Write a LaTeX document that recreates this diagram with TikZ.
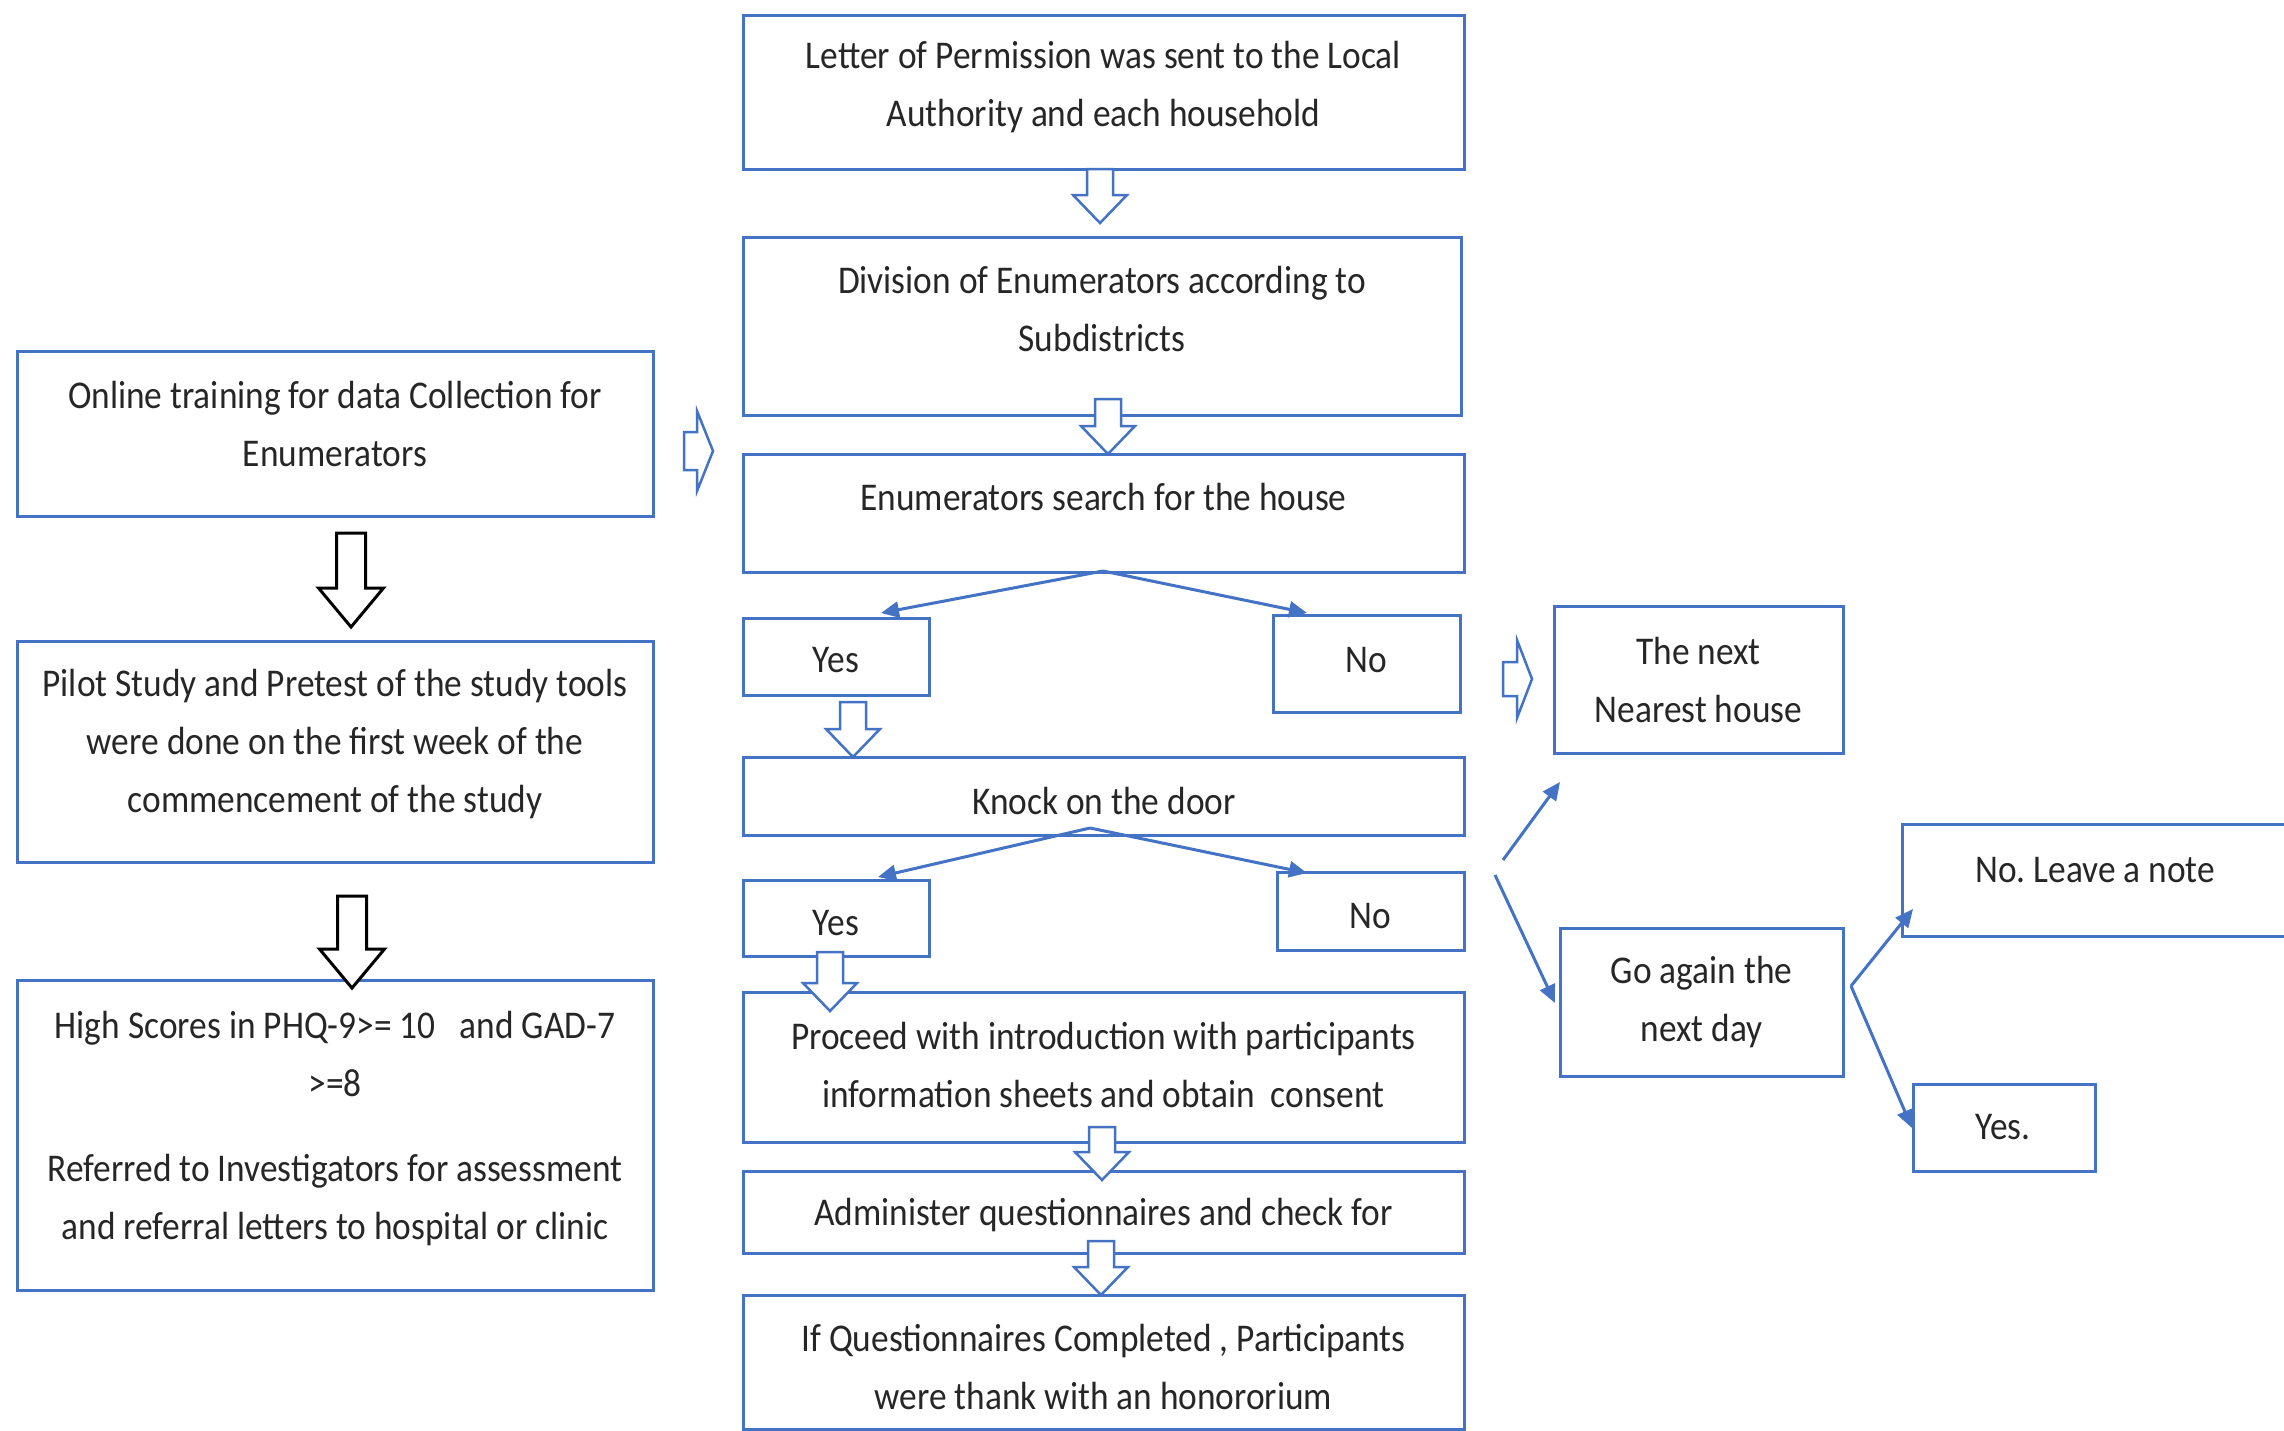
\documentclass[tikz,border=0pt]{standalone}
\usepackage{fontspec}
\setmainfont{Carlito}[FakeStretch=0.9]
\usetikzlibrary{arrows.meta}
\definecolor{boxblue}{RGB}{68,114,196}
\definecolor{txtgray}{RGB}{38,38,38}
\newcommand\blkdown[7]{\draw[#7] ({#1-#4},#2) -- ({#1+#4},#2) -- ({#1+#4},{#3-#6}) -- ({#1+#5},{#3-#6}) -- (#1,#3) -- ({#1-#5},{#3-#6}) -- ({#1-#4},{#3-#6}) -- cycle;}
\newcommand\blkright[7]{\draw[#7] (#1,{#3-#4}) -- ({#2-#6},{#3-#4}) -- ({#2-#6},{#3-#5}) -- (#2,#3) -- ({#2-#6},{#3+#5}) -- ({#2-#6},{#3+#4}) -- (#1,{#3+#4}) -- cycle;}
\tikzset{
  box/.style={draw=boxblue, line width=3pt, rectangle, inner sep=0pt},
  txt/.style={font=\fontsize{39.3}{58}\selectfont\frenchspacing, text=txtgray, align=center, inner sep=0pt},
  thin/.style={draw=boxblue, line width=3pt, -{Triangle[length=18pt,width=16pt]}},
  hollow/.style={draw=boxblue, line width=2.5pt, fill=white, line join=miter},
  hollowblack/.style={draw=black, line width=3pt, fill=white, line join=miter}
}
\begin{document}
\begin{tikzpicture}[x=1pt,y=-1pt]
\useasboundingbox[fill=white] (0,0) rectangle (2284,1430);

% central column boxes
\node[box, minimum width=721, minimum height=154] (letter) at (1103.5,92) {};
\node[txt] (letterT) at (1103.5,87) {Letter of Permission was sent to the Local\\Authority and each household};
\node[box, minimum width=718, minimum height=178] (div) at (1102,326) {};
\node[txt] (divT) at (1102,309) {Division of Enumerators according to\\Subdistricts};
\node[box, minimum width=721, minimum height=118] (search) at (1103.5,513) {};
\node[txt] (searchT) at (1103.5,497) {Enumerators search for the house};
\node[box, minimum width=186, minimum height=77] (yes1) at (836,656.5) {};
\node[txt] (yes1T) at (836,660) {Yes};
\node[box, minimum width=187, minimum height=97] (no1) at (1366.5,663.5) {};
\node[txt] (no1T) at (1366.5,660) {No};
\node[box, minimum width=721, minimum height=78] (knock) at (1103.5,796) {};
\node[txt] (knockT) at (1104,801) {Knock on the door};
\node[box, minimum width=186, minimum height=76] (yes2) at (836,918) {};
\node[txt] (yes2T) at (836,923) {Yes};
\node[box, minimum width=187, minimum height=78] (no2) at (1370.5,911) {};
\node[txt] (no2T) at (1370.5,916) {No};
\node[box, minimum width=721, minimum height=150] (proceed) at (1103.5,1067) {};
\node[txt] (proceedT) at (1103.5,1065) {Proceed with introduction with participants\\information sheets and obtain\ \ consent};
\node[box, minimum width=721, minimum height=82] (admin) at (1103.5,1212) {};
\node[txt] (adminT) at (1103.5,1215) {Administer questionnaires and check for};
\node[box, minimum width=721, minimum height=134] (ifq) at (1103.5,1362) {};
\node[txt] (ifqT) at (1103.5,1367) {If Questionnaires Completed , Participants\\were thank with an honororium};

% left column
\node[box, minimum width=636, minimum height=165] (online) at (335,433.5) {};
\node[txt] (onlineT) at (335,424) {Online training for data Collection for\\Enumerators};
\node[box, minimum width=636, minimum height=221] (pilot) at (335,751.5) {};
\node[txt] (pilotT) at (335,744) {Pilot Study and Pretest of the study tools\\were done on the first week of the\\commencement of the study};
\node[box, minimum width=636, minimum height=310] (high) at (335,1135) {};
\node[txt] (highT1) at (335,1054) {High Scores in PHQ-9>= 10\ \ \ and GAD-7\\>=8};
\node[txt] (highT2) at (335,1200) {Referred to Investigators for assessment\\and referral letters to hospital or clinic};

% right side
\node[box, minimum width=289, minimum height=147] (next) at (1698.5,679.5) {};
\node[txt] (nextT) at (1698.5,679.5) {The next\\Nearest house};
\node[box, minimum width=283, minimum height=148] (again) at (1701.5,1002) {};
\node[txt] (againT) at (1701.5,1002) {Go again the\\next day};
\node[box, minimum width=400, minimum height=112] (leave) at (2102,880) {};
\node[txt] (leaveT) at (2095,870) {No. Leave a note};
\node[box, minimum width=182, minimum height=87] (yes3) at (2004,1127.5) {};
\node[txt] (yes3T) at (2003,1127) {Yes.};

% hollow block arrows
\blkdown{1100}{169}{223}{13}{27}{28}{hollow}
\blkdown{1108}{399}{454}{13}{27}{28}{hollow}
\blkdown{853}{702}{757}{13}{27}{28}{hollow}
\blkdown{830}{952}{1011}{13}{27}{28}{hollow}
\blkdown{1102}{1127}{1180}{13}{27}{28}{hollow}
\blkdown{1101}{1241}{1295}{13}{27}{28}{hollow}
\blkdown{351}{533}{627}{14.5}{32.5}{39}{hollowblack}
\blkdown{352}{896}{988}{14.5}{32.5}{39}{hollowblack}
\blkright{684}{713}{451}{19}{40}{16}{hollow}
\blkright{1503}{1532}{679}{17}{39}{15}{hollow}

% thin arrows
\coordinate (sApex) at (1103,571);
\coordinate (kApex) at (1090,828);
\coordinate (t1) at (881,613);
\coordinate (t2) at (1307,613);
\coordinate (t3) at (878,877);
\coordinate (t4) at (1307,873);
\draw[thin] (sApex) -- (t1);
\draw[thin] (sApex) -- (t2);
\draw[thin] (kApex) -- (t3);
\draw[thin] (kApex) -- (t4);

\coordinate (r1s) at (1503,860);
\coordinate (r1e) at (1560,782);
\coordinate (r2s) at (1495,875);
\coordinate (r2e) at (1555,1003);
\draw[thin] (r1s) -- (r1e);
\draw[thin] (r2s) -- (r2e);

\coordinate (gS) at (1851,986);
\coordinate (g1) at (1913,909);
\coordinate (g2) at (1912,1128);
\draw[thin] (gS) -- (g1);
\draw[thin] (gS) -- (g2);
\end{tikzpicture}
\end{document}
